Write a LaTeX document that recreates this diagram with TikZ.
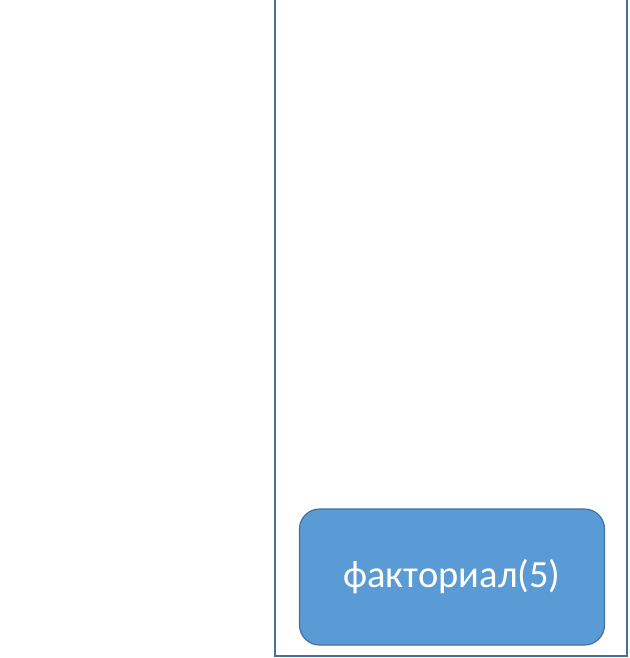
\documentclass[tikz,border=0pt]{standalone}
\usepackage{fontspec}
\setmainfont{Carlito}
\usetikzlibrary{positioning}
\definecolor{shapefill}{HTML}{5B9BD5}
\definecolor{shapeline}{HTML}{41719C}
\tikzset{%
	callbox/.style  = {draw=shapeline, fill=shapefill, line width=1.2pt, rounded corners=20pt, minimum width=305pt, minimum height=136pt, text=white, font=\fontsize{38.5}{46}\selectfont, inner sep=0pt}, % Call
	stackframe/.style = {draw=shapeline, line width=2pt}, % Frame
}
\begin{document}
\begin{tikzpicture}[x=1pt,y=-1pt]
	\useasboundingbox (0,0) rectangle (629,658);
	\coordinate (ftl) at (275,-5);
	\coordinate (fbl) at (275,656);
	\coordinate (fbr) at (627,656);
	\coordinate (ftr) at (627,-5);
	\draw[stackframe] (ftl) -- (fbl) -- (fbr) -- (ftr);
	\node [callbox] (fact5) at (452,577) {факториал(5)};
\end{tikzpicture}
\end{document}
